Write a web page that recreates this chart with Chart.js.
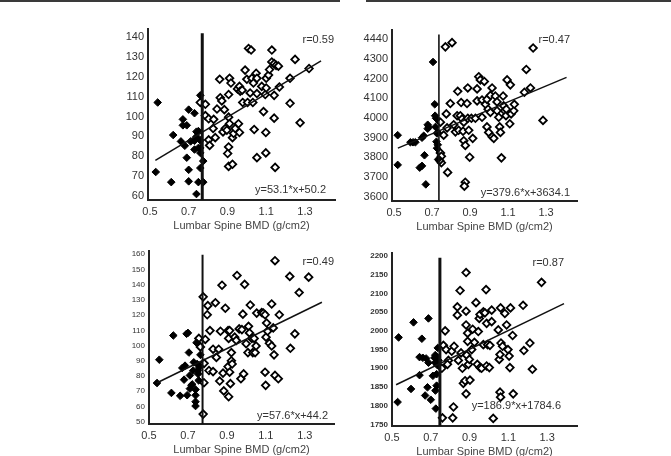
<!DOCTYPE html>
<html>
<head>
<meta charset="utf-8">
<script src="https://cdn.jsdelivr.net/npm/chart.js@4.4.0/dist/chart.umd.min.js"></script>
<style>
body { margin: 0; background: #fff; width: 671px; height: 456px; position: relative; overflow: hidden; }
.rule { position: absolute; top: 0; height: 2px; background: #3a3a3a; }
canvas { position: absolute; }
</style>
</head>
<body>
<div class="rule" style="left:0;width:340px"></div>
<div class="rule" style="left:366px;width:305px"></div>
<canvas id="c1"></canvas>
<canvas id="c2"></canvas>
<canvas id="c3"></canvas>
<canvas id="c4"></canvas>
<script>
/* ------------------------------
   DATA
--------------------------------*/

const xTicks = [0.5, 0.7, 0.9, 1.1, 1.3];
const xTitle = "Lumbar Spine BMD (g/cm2)";

// panel 1 (top left)
const p1Ticks = [60, 70, 80, 90, 100, 110, 120, 130, 140];
const p1Labels = ["60", "70", "80", "90", "100", "110", "120", "130", "140"];
const p1Filled = [[0.54,107.1],[0.53,72.1],[0.61,67.0],[0.62,90.7],[0.67,98.6],[0.67,95.6],[0.69,95.6],[0.66,87.5],[0.68,85.3],[0.69,79.3],[0.70,103.5],[0.73,101.7],[0.70,73.2],[0.70,67.4],[0.71,87.5],[0.73,87.8],[0.73,88.3],[0.74,89.9],[0.74,92.4],[0.75,92.7],[0.73,83.4],[0.75,84.2],[0.76,84.2],[0.76,74.1],[0.75,67.0],[0.74,61.0],[0.76,110.7],[0.775,77.6],[0.775,67.0],[0.76,88.0],[0.76,81.7]];
const p1Open = [[0.76,107.1],[0.786,106.2],[0.786,100.5],[0.803,98.9],[0.829,98.6],[0.826,94.0],[0.803,88.3],[0.808,85.5],[0.837,89.4],[0.846,103.8],[0.86,118.8],[0.863,109.5],[0.871,107.9],[0.884,103.5],[0.877,92.3],[0.889,94.0],[0.897,93.2],[0.906,111.1],[0.911,119.3],[0.918,116.9],[0.906,99.7],[0.911,96.4],[0.906,84.7],[0.901,81.4],[0.906,74.9],[0.926,76.0],[0.926,89.4],[0.932,91.5],[0.94,94.0],[0.952,113.9],[0.962,115.2],[0.966,112.8],[0.976,113.3],[0.957,96.4],[0.962,92.0],[0.979,107.1],[0.991,123.4],[1.0,118.8],[1.004,107.1],[1.017,111.9],[1.009,134.3],[1.022,133.5],[1.026,119.3],[1.031,107.1],[1.034,116.9],[1.038,93.5],[1.048,121.8],[1.052,119.3],[1.052,111.6],[1.052,79.3],[1.077,115.2],[1.086,102.5],[1.095,111.1],[1.1,114.4],[1.1,119.3],[1.112,120.9],[1.117,123.7],[1.129,133.5],[1.129,127.5],[1.141,126.7],[1.151,125.8],[1.163,125.4],[1.141,110.7],[1.141,99.2],[1.098,92.0],[1.098,81.7],[1.146,74.4],[1.168,114.9],[1.223,119.3],[1.223,106.7],[1.249,128.8],[1.275,96.9],[1.321,124.2]];
const p1Fit = [[0.528,78.0],[1.383,128.0]];
const p1Cut = 0.77;

// panel 2 (top right)
const p2Ticks = [3600, 3700, 3800, 3900, 4000, 4100, 4200, 4300, 4400];
const p2Labels = ["3600", "3700", "3800", "3900", "4000", "4100", "4200", "4300", "4440"];
const p2Filled = [[0.519,3913],[0.519,3762],[0.586,3877],[0.60,3877],[0.612,3877],[0.647,3900],[0.656,3910],[0.635,3748],[0.647,3757],[0.66,3811],[0.667,3663],[0.677,3966],[0.682,3955],[0.677,3946],[0.705,4285],[0.714,4070],[0.716,4012],[0.721,3999],[0.718,3955],[0.726,3922],[0.723,3880],[0.73,3864],[0.726,3847],[0.73,3927],[0.732,3790]];
const p2Open = [[0.744,3823],[0.749,3806],[0.749,3773],[0.74,3785],[0.744,3979],[0.761,3913],[0.775,4021],[0.77,4362],[0.805,4383],[0.782,3724],[0.779,3950],[0.796,4074],[0.814,3966],[0.823,3930],[0.832,4012],[0.835,4136],[0.84,3938],[0.849,4012],[0.853,4079],[0.858,3996],[0.863,3933],[0.867,3979],[0.875,3674],[0.87,3654],[0.867,3885],[0.875,3861],[0.884,4074],[0.888,4153],[0.888,3999],[0.893,3938],[0.898,3801],[0.907,3999],[0.914,3897],[0.928,3999],[0.937,4087],[0.937,4148],[0.946,4210],[0.954,4194],[0.963,4004],[0.975,4186],[0.963,4092],[0.981,4070],[0.989,4095],[0.989,3955],[0.995,4045],[0.998,3927],[1.007,4115],[1.007,4029],[1.016,4153],[1.016,3905],[1.025,3897],[1.033,4112],[1.042,4082],[1.042,4037],[1.051,4004],[1.056,3955],[1.06,3927],[1.065,3798],[1.074,4112],[1.077,4062],[1.082,4037],[1.089,4012],[1.095,4194],[1.109,3971],[1.112,4169],[1.116,4021],[1.13,4037],[1.133,4070],[1.091,4045],[1.186,4131],[1.196,4247],[1.218,4153],[1.232,4356],[1.284,3988]];
const p2Fit = [[0.52,3847],[1.408,4207]];
const p2Cut = 0.736;

// panel 3 (bottom left)
const p3Ticks = [50, 60, 70, 80, 90, 100, 110, 120, 130, 140, 150, 160];
const p3Labels = ["50", "60", "70", "80", "90", "100", "110", "120", "130", "140", "150", "160"];
const p3Filled = [[0.541,75.4],[0.553,90.7],[0.615,68.9],[0.625,106.6],[0.66,67.0],[0.671,85.3],[0.68,77.6],[0.685,86.8],[0.693,107.7],[0.70,108.3],[0.696,67.4],[0.705,95.4],[0.71,80.4],[0.71,71.7],[0.718,73.9],[0.722,74.5],[0.727,83.6],[0.73,89.0],[0.739,71.1],[0.739,67.4],[0.739,63.1],[0.739,60.3],[0.744,101.9],[0.747,87.9],[0.75,83.6],[0.752,81.4],[0.755,77.1],[0.759,85.7],[0.764,93.9]];
const p3Open = [[0.756,104.7],[0.764,99.1],[0.778,132.0],[0.782,75.6],[0.778,55.0],[0.783,88.3],[0.789,104.0],[0.799,120.2],[0.802,126.2],[0.808,83.6],[0.813,109.8],[0.829,82.9],[0.829,97.6],[0.841,128.1],[0.846,92.2],[0.858,97.6],[0.863,76.7],[0.867,109.4],[0.875,139.6],[0.88,81.9],[0.884,70.2],[0.892,124.5],[0.906,109.8],[0.909,104.7],[0.909,66.4],[0.906,86.2],[0.914,82.5],[0.914,109.8],[0.918,75.0],[0.923,95.4],[0.923,90.0],[0.927,87.9],[0.94,105.5],[0.948,103.4],[0.952,146.0],[0.963,110.9],[0.972,78.2],[0.977,110.5],[0.982,120.6],[0.986,81.4],[0.991,140.2],[0.999,101.2],[1.008,95.4],[1.011,112.6],[1.016,108.3],[1.02,126.6],[1.028,104.7],[1.033,95.4],[1.04,104.7],[1.045,95.4],[1.05,99.7],[1.053,121.3],[1.079,121.7],[1.087,121.3],[1.096,120.2],[1.096,82.5],[1.099,73.9],[1.101,105.5],[1.104,114.8],[1.109,109.4],[1.118,101.5],[1.13,127.3],[1.13,99.7],[1.138,111.6],[1.142,93.9],[1.147,155.7],[1.147,80.4],[1.164,78.2],[1.169,120.2],[1.223,145.4],[1.226,98.2],[1.249,107.7],[1.271,134.8],[1.32,144.9]];
const p3Fit = [[0.539,75.4],[1.388,128.4]];
const p3Cut = 0.775;

// panel 4 (bottom right)
const p4Ticks = [1750, 1800, 1850, 1900, 1950, 2000, 2050, 2100, 2150, 2200];
const p4Labels = ["1750", "1800", "1850", "1900", "1950", "2000", "2050", "2100", "2150", "2200"];
const p4Filled = [[0.534,1982.5],[0.529,1809.6],[0.598,1844.7],[0.611,2022.8],[0.642,1881.6],[0.654,1979],[0.642,1929.8],[0.659,1928],[0.676,1926.3],[0.683,1849.1],[0.688,2033.3],[0.671,1827.2],[0.688,1914.9],[0.70,1815.8],[0.711,1879.8],[0.719,1928],[0.723,1914.9],[0.726,1792.1],[0.724,1840.4],[0.73,1853.5],[0.73,1884.2],[0.733,1908.8],[0.73,1929.8],[0.736,1954.4],[0.723,1935.1],[0.74,1921]];
const p4Open = [[0.757,1900],[0.765,1961.4],[0.774,2000],[0.779,1950],[0.791,1921],[0.786,1910.5],[0.808,1945.6],[0.82,1958.8],[0.817,1796.5],[0.813,1767.5],[0.76,1767.5],[0.837,2064],[0.837,2042],[0.842,1921],[0.851,2107.9],[0.856,1941],[0.863,1900],[0.868,1859.6],[0.877,1866.7],[0.882,2156],[0.882,2052.6],[0.882,2015.8],[0.882,1831.6],[0.885,1935],[0.89,1993.9],[0.89,1972],[0.894,1910.5],[0.899,1923.7],[0.902,1868.4],[0.911,1950],[0.916,2004.4],[0.925,1969.3],[0.933,2075.4],[0.94,1910.5],[0.945,1998.2],[0.95,2033.3],[0.954,1901.8],[0.954,2043.9],[0.962,1900],[0.971,1963.2],[0.971,2050.9],[0.979,2048.2],[0.985,2110.5],[0.988,2020.2],[0.988,1906.1],[0.993,1963.2],[1.002,1901.8],[1.005,1961.4],[1.014,2055.3],[1.014,2024.6],[1.022,1765.8],[1.048,2002.6],[1.053,1923.7],[1.057,1936.8],[1.057,1836],[1.06,1822.8],[1.06,2061.4],[1.062,1967.5],[1.07,1958.8],[1.082,2046.5],[1.091,2015.8],[1.098,1950],[1.104,1932.5],[1.108,1901.8],[1.111,2061.4],[1.122,1987.7],[1.125,1831.6],[1.176,2068.4],[1.18,1947.4],[1.211,1967.5],[1.224,1897.4],[1.271,2129.8]];
const p4Fit = [[0.521,1856],[1.387,2072.8]];
const p4Cut = 0.747;

/* ------------------------------
   DRAWING
--------------------------------*/

const FONT = '"Liberation Sans Narrow", "Liberation Sans", Arial, sans-serif';
const AX_W = 44, AX_H = 36, PAD_T = 6, PAD_R = 8;

const toXY = pts => pts.map(p => ({ x: p[0], y: p[1] }));

// r value and fit equation, written in the plot corners
const cornerText = {
    id: "cornerText",
    afterDraw(chart, args, o) {
        const ctx = chart.ctx, a = chart.chartArea;
        ctx.save();
        ctx.font = "11px " + FONT;
        ctx.fillStyle = "#333";
        ctx.textAlign = "right";
        ctx.textBaseline = "middle";
        ctx.fillText(o.r, a.right + o.rOff[0], a.top + o.rOff[1]);
        ctx.fillText(o.eq, a.right + o.eqOff[0], a.bottom + o.eqOff[1]);
        ctx.restore();
    }
};

function makePanel(id, p) {
    const cv = document.getElementById(id);
    const [left, right, top, bottom] = p.area;
    cv.width = AX_W + (right - left) + PAD_R;
    cv.height = PAD_T + (bottom - top) + AX_H;
    cv.style.left = (left - AX_W) + "px";
    cv.style.top = (top - PAD_T) + "px";

    new Chart(cv, {
        type: "scatter",
        data: {
            datasets: [
                { data: toXY(p.fit), showLine: true, borderColor: "#111", borderWidth: 1.5, pointRadius: 0 },
                { data: [{ x: p.cut, y: p.yr[0] }, { x: p.cut, y: p.cutTop }], showLine: true,
                  borderColor: "#111", borderWidth: p.cutW, pointRadius: 0 },
                { data: toXY(p.filled), pointStyle: "rectRot", pointRadius: 3.8,
                  backgroundColor: "#000", borderColor: "#000", borderWidth: 1 },
                { data: toXY(p.open), pointStyle: "rectRot", pointRadius: 3.8,
                  backgroundColor: "#fff", borderColor: "#000", borderWidth: 1.8 }
            ]
        },
        options: {
            responsive: false,
            animation: false,
            layout: { padding: { top: PAD_T, right: PAD_R, left: 0, bottom: 0 } },
            plugins: {
                legend: { display: false },
                tooltip: { enabled: false },
                cornerText: { r: p.r, eq: p.eq, rOff: p.rOff, eqOff: p.eqOff }
            },
            scales: {
                x: {
                    type: "linear", min: p.xr[0], max: p.xr[1],
                    afterBuildTicks: s => { s.ticks = xTicks.map(v => ({ value: v })); },
                    afterFit: s => { s.height = AX_H; },
                    grid: { display: false, drawTicks: false },
                    border: { display: true, color: "#222", width: 2 },
                    ticks: { padding: 5, color: "#333", font: { family: FONT, size: 11 },
                             callback: (v, i) => xTicks[i].toFixed(1) },
                    title: { display: true, text: xTitle, color: "#444",
                             font: { family: FONT, size: 11 }, padding: { top: 2, bottom: 3 } }
                },
                y: {
                    type: "linear", min: p.yr[0], max: p.yr[1],
                    afterBuildTicks: s => { s.ticks = p.ticks.map(v => ({ value: v })); },
                    afterFit: s => { s.width = AX_W; },
                    grid: { display: false, drawTicks: false },
                    border: { display: true, color: "#222", width: 2 },
                    ticks: { padding: 4, color: "#333", font: p.yFont,
                             callback: (v, i) => p.labels[i] }
                }
            }
        },
        plugins: [cornerText]
    });
}

makePanel("c1", {
    area: [148, 335, 24, 200], xr: [0.49, 1.455], yr: [58, 144.3],
    ticks: p1Ticks, labels: p1Labels, filled: p1Filled, open: p1Open, fit: p1Fit,
    cut: p1Cut, cutTop: 141.9, cutW: 3,
    yFont: { family: FONT, size: 11 },
    r: "r=0.59", eq: "y=53.1*x+50.2", rOff: [-1, 11], eqOff: [-9, -10]
});

makePanel("c2", {
    area: [392, 577, 25, 201], xr: [0.489, 1.463], yr: [3578.6, 4449.5],
    ticks: p2Ticks, labels: p2Labels, filled: p2Filled, open: p2Open, fit: p2Fit,
    cut: p2Cut, cutTop: 4425, cutW: 1.6,
    yFont: { family: FONT, size: 11 },
    r: "r=0.47", eq: "y=379.6*x+3634.1", rOff: [-7, 10], eqOff: [-7, -8]
});

makePanel("c3", {
    area: [149, 334, 248, 424], xr: [0.5, 1.45], yr: [48.5, 162.2],
    ticks: p3Ticks, labels: p3Labels, filled: p3Filled, open: p3Open, fit: p3Fit,
    cut: p3Cut, cutTop: 159.6, cutW: 2,
    yFont: { family: FONT, size: 8 },
    r: "r=0.49", eq: "y=57.6*x+44.2", rOff: [0, 11], eqOff: [-6, -8]
});

makePanel("c4", {
    area: [392, 577, 250, 426], xr: [0.5, 1.454], yr: [1745.6, 2208.8],
    ticks: p4Ticks, labels: p4Labels, filled: p4Filled, open: p4Open, fit: p4Fit,
    cut: p4Cut, cutTop: 2195.6, cutW: 3,
    yFont: { family: FONT, size: 8, weight: "bold" },
    r: "r=0.87", eq: "y=186.9*x+1784.6", rOff: [-13, 10], eqOff: [-16, -20]
});
</script>
</body>
</html>
